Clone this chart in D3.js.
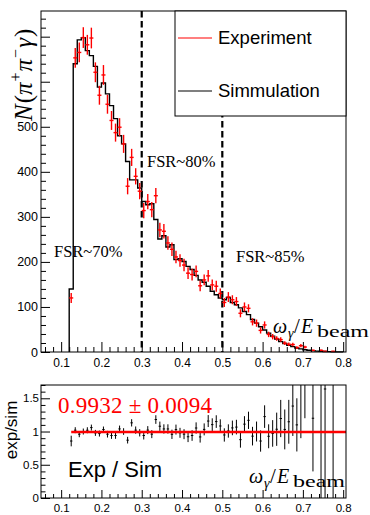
<!DOCTYPE html>
<html>
<head>
<meta charset="utf-8">
<script src="https://cdn.jsdelivr.net/npm/d3@7"></script>
<style>
  body { margin: 0; background: #fff; }
  svg { display: block; }
</style>
</head>
<body>
<div id="chart"></div>
<script>
// ---- data ----
// low edge of each bin (bin width 0.01)
var binLow = [0.12, 0.13, 0.14, 0.15, 0.16, 0.17, 0.18, 0.19, 0.20, 0.21,
              0.22, 0.23, 0.24, 0.25, 0.26, 0.27, 0.28, 0.29, 0.30, 0.31,
              0.32, 0.33, 0.34, 0.35, 0.36, 0.37, 0.38, 0.39, 0.40, 0.41,
              0.42, 0.43, 0.44, 0.45, 0.46, 0.47, 0.48, 0.49, 0.50, 0.51,
              0.52, 0.53, 0.54, 0.55, 0.56, 0.57, 0.58, 0.59, 0.60, 0.61,
              0.62, 0.63, 0.64, 0.65, 0.66, 0.67, 0.68, 0.69, 0.70, 0.71,
              0.72, 0.73, 0.74, 0.75, 0.76, 0.77, 0.78, 0.79];
var binWidth = 0.01;

var simCounts = [140, 640, 693, 698, 669, 658, 634, 588, 597, 573,
                 547, 518, 480, 462, 423, 382, 382, 364, 334, 327,
                 329, 294, 251, 258, 233, 238, 205, 207, 201, 190,
                 183, 170, 160, 155, 146, 135, 127, 120, 116, 121,
                 110, 105, 98, 90, 83, 72, 64, 56, 49, 42,
                 35, 29, 23, 19, 15, 12, 9, 7, 5, 4,
                 3, 2, 1.5, 1, 0.8, 0.5, 0.3, 0.2];

var expCounts = [120, 653, 665, 698, 682, 697, 621, 570, 615, 550,
                 514, 487, 499, 462, 368, 432, 390, 357, 314, 334,
                 316, 347, 271, 268, 242, 228, 211, 203, 193, 175,
                 172, 179, 147, 160, 169, 149, 146, 130, 110, 122,
                 116, 112, 86, 100, 97, 67, 64, 48, 60, 39,
                 34, 30, 27.5, 19.6, 17.2, 16.6, 9.9, 14, 11, null,
                 3.6, null, 3.75, 1.64, null, 1.5, null, null];

var expErrors = [11, 22, 22, 23, 22, 23, 22, 21, 22, 21,
                 21, 20, 20, 20, 18, 19, 18, 18, 17, 17,
                 17, 17, 16, 16, 15, 15, 14, 14, 14, 13,
                 13, 13, 12, 12, 13, 12, 12, 11, 10, 11,
                 10, 10, 9, 10, 9, 8, 8, 7, 8, 6,
                 6, 5, 5, 4, 4, 4, 3, 3.5, 3, null,
                 2, null, 2, 1.3, null, 1.2, null, null];

var ratioErrors = [0.08, 0.045, 0.045, 0.045, 0.045, 0.045, 0.045, 0.045, 0.045, 0.05,
                   0.05, 0.05, 0.05, 0.05, 0.05, 0.055, 0.055, 0.055, 0.06, 0.06,
                   0.06, 0.065, 0.07, 0.07, 0.07, 0.07, 0.075, 0.075, 0.075, 0.08,
                   0.08, 0.085, 0.085, 0.09, 0.09, 0.095, 0.095, 0.1, 0.1, 0.1,
                   0.11, 0.11, 0.12, 0.12, 0.13, 0.14, 0.15, 0.16, 0.17, 0.18,
                   0.2, 0.25, 0.28, 0.3, 0.33, 0.45, 0.4, 1.1, 1.0, null,
                   0.8, null, 3, 2, null, 4, null, null];

var fitValue = 0.9932;
var fitError = 0.0094;
var fitRange = [0.125, 0.807];

var cutValues = [0.3, 0.5];
var fsrLabels = ["FSR~70%", "FSR~80%", "FSR~85%"];
var legendLabels = ["Experiment", "Simmulation"];

var xTicks = [0.1, 0.2, 0.3, 0.4, 0.5, 0.6, 0.7, 0.8];
var yTicksTop = [0, 100, 200, 300, 400, 500, 600, 700];
var yLabelsTop = [0, 100, 200, 300, 400, 500];
var yTicksBottom = [0, 0.5, 1, 1.5];

// ---- scales ----
var svg = d3.select("#chart").append("svg")
  .attr("width", 370)
  .attr("height", 515);

var x = d3.scaleLinear().domain([0.05, 0.807]).range([41, 346]);
var yTop = d3.scaleLinear().domain([0, 757]).range([352, 11]);
var yBot = d3.scaleLinear().domain([0, 1.7]).range([498, 385]);

var sansFont = "'Liberation Sans', Arial, sans-serif";
var serifFont = "'Liberation Serif', 'Times New Roman', serif";

var xMinor = d3.range(3, 41).filter(i => i % 5 != 0).map(i => i * 0.02);
var yMinorTop = d3.range(1, 38).filter(i => i % 5 != 0).map(i => i * 20);
var yMinorBot = d3.range(1, 18).filter(i => i % 5 != 0).map(i => i * 0.1);

function tickAxis(axis, transform, values, size, fmt, fontSize, padding) {
  var g = svg.append("g")
    .attr("transform", transform)
    .call(axis.tickValues(values).tickSize(size).tickPadding(padding).tickFormat(fmt));
  g.select(".domain").remove();
  g.attr("font-family", sansFont).attr("font-size", fontSize);
  g.selectAll("line").attr("stroke", "#000").attr("stroke-width", 1);
  g.selectAll("text").attr("fill", "#000");
  return g;
}

// ================= top panel =================
var topPanel = svg.append("g");

// dashed cut lines
topPanel.selectAll(".cut")
  .data(cutValues)
  .enter()
  .append("line")
  .attr("x1", d => x(d))
  .attr("x2", d => x(d))
  .attr("y1", yTop.range()[1])
  .attr("y2", yTop.range()[0])
  .attr("stroke", "#000")
  .attr("stroke-width", 2.2)
  .attr("stroke-dasharray", "6.5,3.5");

// simulation histogram
var last = binLow.length - 1;
var histPts = [[binLow[0], 0]];
binLow.forEach((b, i) => histPts.push([b, simCounts[i]]));
histPts.push([binLow[last] + binWidth, simCounts[last]]);
histPts.push([binLow[last] + binWidth, 0]);

topPanel.append("path")
  .datum(histPts)
  .attr("fill", "none")
  .attr("stroke", "#000")
  .attr("stroke-width", 1.4)
  .attr("d", d3.line().x(d => x(d[0])).y(d => yTop(d[1])).curve(d3.curveStepAfter));

// experiment points
var expData = binLow.map((b, i) => ({ lo: b, v: expCounts[i], e: expErrors[i] }))
  .filter(d => d.v != null);

var expG = topPanel.selectAll(".exp")
  .data(expData)
  .enter()
  .append("g")
  .attr("stroke", "#f00")
  .attr("stroke-width", 1.4);

expG.append("line")
  .attr("x1", d => x(d.lo + binWidth / 2))
  .attr("x2", d => x(d.lo + binWidth / 2))
  .attr("y1", d => yTop(d.v - d.e))
  .attr("y2", d => yTop(d.v + d.e));

expG.append("line")
  .attr("x1", d => x(d.lo))
  .attr("x2", d => x(d.lo + binWidth))
  .attr("y1", d => yTop(d.v))
  .attr("y2", d => yTop(d.v));

// frame
topPanel.append("rect")
  .attr("x", 41).attr("y", 11)
  .attr("width", 305).attr("height", 341)
  .attr("fill", "none")
  .attr("stroke", "#000")
  .attr("stroke-width", 1);

// axes
tickAxis(d3.axisBottom(x), "translate(0,352)", xTicks, -10, d3.format(".1f"), 12, 6);
tickAxis(d3.axisBottom(x), "translate(0,352)", xMinor, -5, () => "", 12, 0);
tickAxis(d3.axisLeft(yTop), "translate(41,0)", yTicksTop, -9,
  d => yLabelsTop.indexOf(d) >= 0 ? d : "", 12.5, 3);
tickAxis(d3.axisLeft(yTop), "translate(41,0)", yMinorTop, -5, () => "", 12, 0);

// legend
var leg = topPanel.append("g");
leg.append("rect")
  .attr("x", 175).attr("y", 11)
  .attr("width", 171).attr("height", 105)
  .attr("fill", "#fff")
  .attr("stroke", "#000")
  .attr("stroke-width", 1);

var legColors = ["#f00", "#000"];
var legRows = leg.selectAll(".row")
  .data(legendLabels)
  .enter()
  .append("g")
  .attr("transform", (d, i) => `translate(0, ${38 + i * 53})`);

legRows.append("line")
  .attr("x1", 178).attr("x2", 212)
  .attr("y1", 0).attr("y2", 0)
  .attr("stroke", (d, i) => legColors[i])
  .attr("stroke-width", 1.2);

legRows.append("text")
  .attr("x", 218)
  .attr("y", 6)
  .attr("font-family", sansFont)
  .attr("font-size", 18.5)
  .attr("fill", "#000")
  .text(d => d);

// FSR labels
var fsrPos = [[54, 257], [147, 167], [236, 262]];
topPanel.selectAll(".fsr")
  .data(fsrLabels)
  .enter()
  .append("text")
  .attr("x", (d, i) => fsrPos[i][0])
  .attr("y", (d, i) => fsrPos[i][1])
  .attr("font-family", serifFont)
  .attr("font-size", 16.5)
  .attr("fill", "#000")
  .text(d => d);

// y title N(pi+ pi- gamma)
var yTitle = svg.append("text")
  .attr("transform", "translate(32,121) rotate(-90)")
  .attr("font-family", serifFont)
  .attr("font-size", 25)
  .attr("fill", "#000");
yTitle.append("tspan").attr("font-style", "italic").text("N");
yTitle.append("tspan").attr("dx", 1).text("(");
yTitle.append("tspan").attr("font-style", "italic").text("π");
yTitle.append("tspan").attr("font-size", 16).attr("dx", 1).attr("dy", -11).text("+");
yTitle.append("tspan").attr("font-style", "italic").attr("dx", 1).attr("dy", 11).text("π");
yTitle.append("tspan").attr("font-size", 16).attr("dx", 1).attr("dy", -11).text("−");
yTitle.append("tspan").attr("font-style", "italic").attr("dx", 1).attr("dy", 11).text("γ");
yTitle.append("tspan").attr("dx", 1).text(")");

// x title omega_gamma / E_beam
function omegaLabel(px, base) {
  var g = svg.append("g")
    .attr("font-family", serifFont)
    .attr("fill", "#000");
  g.append("text").attr("x", px[0]).attr("y", base)
    .attr("font-size", 20).attr("font-style", "italic").text("ω");
  g.append("text").attr("x", px[1]).attr("y", base + 5)
    .attr("font-size", 14).attr("font-style", "italic").text("γ");
  g.append("text").attr("x", px[2]).attr("y", base)
    .attr("font-size", 21).text("/");
  g.append("text").attr("x", px[3]).attr("y", base)
    .attr("font-size", 20).attr("font-style", "italic").text("E");
  g.append("text").attr("x", px[4]).attr("y", base + 4)
    .attr("font-size", 17).attr("textLength", px[5]).attr("lengthAdjust", "spacingAndGlyphs")
    .text("beam");
}
omegaLabel([273, 288, 294, 301, 317, 52], 333);

// ================= bottom panel =================
svg.append("clipPath").attr("id", "botClip")
  .append("rect").attr("x", 41).attr("y", 385).attr("width", 305).attr("height", 113);

var botPanel = svg.append("g");

var ratioData = binLow.map((b, i) => ({
    lo: b,
    r: expCounts[i] == null ? null : expCounts[i] / simCounts[i],
    e: ratioErrors[i]
  }))
  .filter(d => d.r != null);

var ratioG = botPanel.append("g")
  .attr("clip-path", "url(#botClip)")
  .selectAll(".ratio")
  .data(ratioData)
  .enter()
  .append("g")
  .attr("stroke", "#000")
  .attr("stroke-width", 1);

ratioG.append("line")
  .attr("x1", d => x(d.lo + binWidth / 2))
  .attr("x2", d => x(d.lo + binWidth / 2))
  .attr("y1", d => yBot(d.r - d.e))
  .attr("y2", d => yBot(d.r + d.e));

ratioG.append("line")
  .attr("x1", d => x(d.lo + 0.002))
  .attr("x2", d => x(d.lo + binWidth - 0.002))
  .attr("y1", d => yBot(d.r))
  .attr("y2", d => yBot(d.r));

// fit line
botPanel.append("line")
  .attr("x1", x(fitRange[0]))
  .attr("x2", x(fitRange[1]))
  .attr("y1", yBot(fitValue))
  .attr("y2", yBot(fitValue))
  .attr("stroke", "#f00")
  .attr("stroke-width", 2.5);

botPanel.append("rect")
  .attr("x", 41).attr("y", 385)
  .attr("width", 305).attr("height", 113)
  .attr("fill", "none")
  .attr("stroke", "#000")
  .attr("stroke-width", 1);

tickAxis(d3.axisBottom(x), "translate(0,498)", xTicks, -8, d3.format(".1f"), 11.5, 6);
tickAxis(d3.axisBottom(x), "translate(0,498)", xMinor, -4, () => "", 11, 0);
tickAxis(d3.axisLeft(yBot), "translate(41,0)", yTicksBottom, -9, d => String(d), 11.5, 2);
tickAxis(d3.axisLeft(yBot), "translate(41,0)", yMinorBot, -4.5, () => "", 11, 0);

// fit result text
botPanel.append("text")
  .attr("x", 58)
  .attr("y", 413)
  .attr("font-family", serifFont)
  .attr("font-size", 23)
  .attr("fill", "#f00")
  .attr("textLength", 154)
  .attr("lengthAdjust", "spacing")
  .text(fitValue.toFixed(4) + " ± " + fitError.toFixed(4));

botPanel.append("text")
  .attr("x", 68)
  .attr("y", 477)
  .attr("font-family", sansFont)
  .attr("font-size", 22)
  .attr("fill", "#000")
  .text("Exp / Sim");

botPanel.append("text")
  .attr("transform", "translate(17,430) rotate(-90)")
  .attr("text-anchor", "middle")
  .attr("font-family", sansFont)
  .attr("font-size", 17)
  .attr("fill", "#000")
  .text("exp/sim");

omegaLabel([249, 264, 270, 277, 293, 52], 483);
</script>
</body>
</html>
